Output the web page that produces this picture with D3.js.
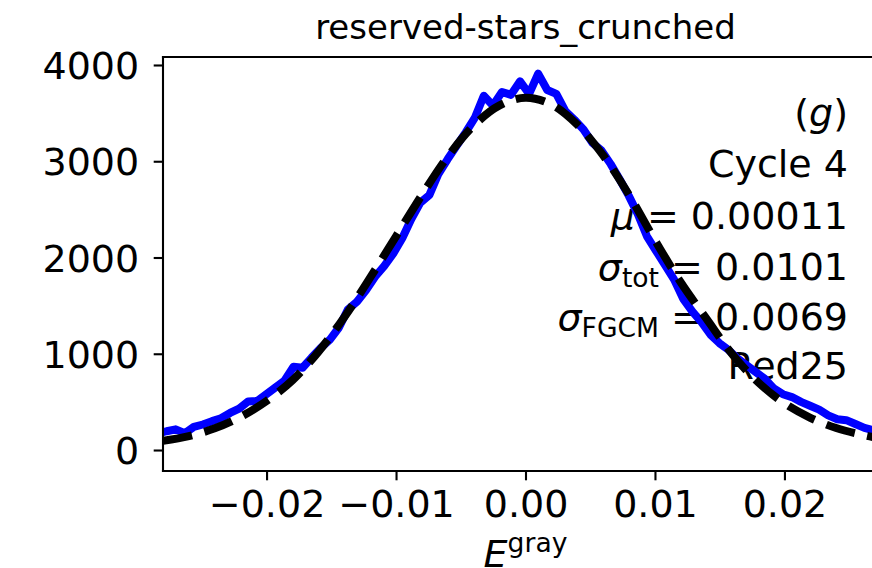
<!DOCTYPE html>
<html>
<head>
<meta charset="utf-8">
<script src="https://cdn.jsdelivr.net/npm/d3@7"></script>
<style>
  body { margin: 0; background: #fff; }
  svg text { font-family: "DejaVu Sans", sans-serif; fill: #000; }
</style>
</head>
<body>
<svg id="chart" width="872" height="568"></svg>
<script>
// ---- data ----
const titleText = "reserved-stars_crunched";

// histogram of E^gray: first bin centre and bin width
const binStart = -0.02842;
const binWidth = 0.0007;
const counts = [
  170, 195, 215, 175, 240, 265, 300, 330, 385, 430,
  505, 510, 580, 650, 720, 865, 855, 960, 1060, 1145,
  1270, 1460, 1540, 1660, 1800, 1910, 2040, 2200, 2400, 2570,
  2650, 2870, 3020, 3160, 3300, 3450, 3680, 3580, 3720, 3690,
  3830, 3700, 3910, 3740, 3700, 3520, 3430, 3330, 3190, 3110,
  2970, 2810, 2640, 2450, 2220, 2070, 1920, 1770, 1570, 1440,
  1330, 1200, 1110, 1040, 950, 880, 810, 740, 640, 580,
  550, 500, 460, 420, 360, 320, 310, 270, 230, 205,
  180, 170
];

// gaussian fit curve, sampled
const fitX = [
  -0.028, -0.026, -0.024, -0.022, -0.020, -0.018, -0.016, -0.014, -0.012, -0.010,
  -0.008, -0.006, -0.004, -0.002, 0.000, 0.002, 0.004, 0.006, 0.008, 0.010,
  0.012, 0.014, 0.016, 0.018, 0.020, 0.022, 0.024, 0.026, 0.028
];
const fitY = [
  95, 145, 225, 345, 510, 725, 1020, 1380, 1790, 2220,
  2650, 3050, 3370, 3580, 3660, 3590, 3380, 3060, 2650, 2180,
  1740, 1360, 990, 700, 485, 335, 228, 158, 105
];

const xTicks = [-0.02, -0.01, 0.00, 0.01, 0.02];
const yTicks = [0, 1000, 2000, 3000, 4000];
const xDomain = [-0.028, 0.028];
const yDomain = [-218, 4083];

// annotation block: [text, style] runs per line ("i" italic, "sub" subscript)
const annotationLines = [
  [["(", ""], ["g", "i"], [")", ""]],
  [["Cycle 4", ""]],
  [["μ", "i"], [" = 0.00011", ""]],
  [["σ", "i"], ["tot", "sub"], [" = 0.0101", ""]],
  [["σ", "i"], ["FGCM", "sub"], [" = 0.0069", ""]],
  [["Red25", ""]]
];

// ---- layout ----
const svg = d3.select("#chart");
const plot = { left: 163, right: 888, top: 57, bottom: 471 };
const fs = 38;

const x = d3.scaleLinear().domain(xDomain).range([plot.left, plot.right]);
const y = d3.scaleLinear().domain(yDomain).range([plot.bottom, plot.top]);

svg.append("rect").attr("width", 872).attr("height", 568).attr("fill", "#fff");

svg.append("clipPath").attr("id", "axclip")
  .append("rect")
  .attr("x", plot.left).attr("y", plot.top)
  .attr("width", plot.right - plot.left).attr("height", plot.bottom - plot.top);

// title
svg.append("text")
  .attr("x", (plot.left + plot.right) / 2).attr("y", 39)
  .attr("text-anchor", "middle")
  .style("font-size", "34px")
  .text(titleText);

// annotation text (drawn beneath the curves)
const annX = 848;
const annBase = [126, 177, 228.5, 280, 330, 378.5];
const ann = svg.append("g").style("font-size", fs + "px");
annotationLines.forEach((runs, li) => {
  const t = ann.append("text")
    .attr("x", annX).attr("y", annBase[li])
    .attr("text-anchor", "end");
  let shifted = false;
  runs.forEach(([s, style]) => {
    const sp = t.append("tspan").text(s);
    if (style === "i") sp.style("font-style", "italic");
    if (style === "sub") {
      sp.style("font-size", "26.6px").attr("dy", 7);
      shifted = true;
    } else if (shifted) {
      sp.attr("dy", -7);
      shifted = false;
    }
  });
});

// curves
const gLines = svg.append("g").attr("clip-path", "url(#axclip)");

const histPoints = counts.map((c, i) => [binStart + i * binWidth, c]);
gLines.append("path")
  .datum(histPoints)
  .attr("fill", "none")
  .attr("stroke", "#0000ff")
  .attr("stroke-width", 8)
  .attr("stroke-linejoin", "round")
  .attr("d", d3.line().x(d => x(d[0])).y(d => y(d[1])));

const fitPoints = fitX.map((v, i) => [v, fitY[i]]);
gLines.append("path")
  .datum(fitPoints)
  .attr("fill", "none")
  .attr("stroke", "#000")
  .attr("stroke-width", 8)
  .attr("stroke-dasharray", "29.6,12.8")
  .attr("d", d3.line().curve(d3.curveCatmullRom).x(d => x(d[0])).y(d => y(d[1])));

// axes
const xAxis = d3.axisBottom(x).tickValues(xTicks).tickFormat(d3.format(".2f"))
  .tickSize(9.3).tickPadding(10);
const gx = svg.append("g").attr("transform", `translate(0,${plot.bottom})`).call(xAxis);

const yAxis = d3.axisLeft(y).tickValues(yTicks).tickFormat(d3.format("d"))
  .tickSize(9.3).tickPadding(14.5);
const gy = svg.append("g").attr("transform", `translate(${plot.left},0)`).call(yAxis);

[gx, gy].forEach(g => {
  g.select(".domain").remove();
  g.selectAll(".tick line").attr("stroke", "#000").attr("stroke-width", 2.1);
  g.selectAll(".tick text")
    .style("font-family", '"DejaVu Sans", sans-serif')
    .style("font-size", fs + "px")
    .attr("fill", "#000");
  g.attr("font-family", null).attr("font-size", null);
});
gy.selectAll(".tick text").attr("dy", "0.36em");

// spines
const spine = svg.append("g").attr("stroke", "#000").attr("stroke-width", 2.1)
  .attr("fill", "none").attr("stroke-linecap", "square");
spine.append("line").attr("x1", plot.left).attr("x2", plot.left)
  .attr("y1", plot.top).attr("y2", plot.bottom);
spine.append("line").attr("x1", plot.left).attr("x2", plot.right)
  .attr("y1", plot.bottom).attr("y2", plot.bottom);
spine.append("line").attr("x1", plot.left).attr("x2", plot.right)
  .attr("y1", plot.top).attr("y2", plot.top);
spine.append("line").attr("x1", plot.right).attr("x2", plot.right)
  .attr("y1", plot.top).attr("y2", plot.bottom);

// x label: E^gray
const xl = svg.append("text")
  .attr("x", (plot.left + plot.right) / 2).attr("y", 567)
  .attr("text-anchor", "middle")
  .style("font-size", fs + "px");
xl.append("tspan").style("font-style", "italic").text("E");
xl.append("tspan").style("font-size", "26.6px").attr("dy", -15).text("gray");
</script>
</body>
</html>
